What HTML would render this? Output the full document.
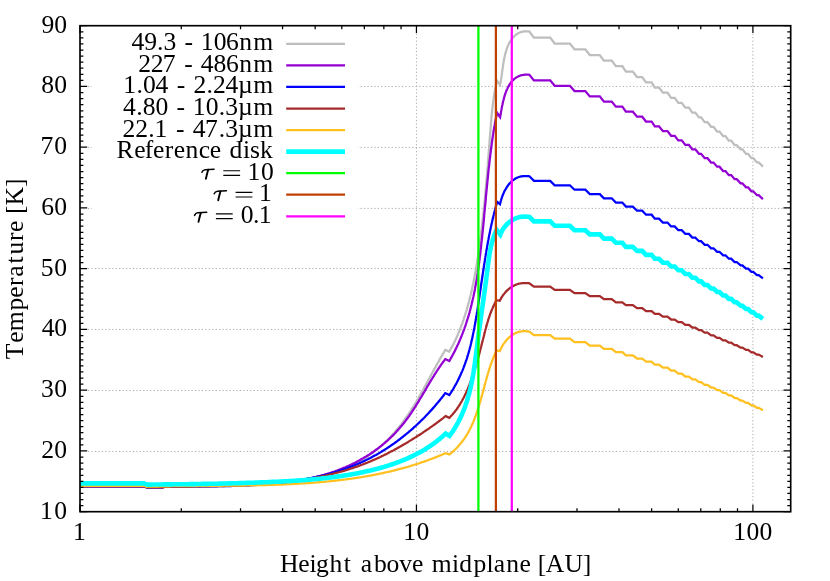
<!DOCTYPE html>
<html><head><meta charset="utf-8"><title>Temperature vs height above midplane</title>
<style>html,body{margin:0;padding:0;background:#fff;}svg{display:block;will-change:transform;}body{font-family:"Liberation Serif",serif;}</style></head>
<body>
<svg width="830" height="581" viewBox="0 0 830 581">
<rect width="830" height="581" fill="#fff"/>
<g stroke="#adadad" stroke-width="1" stroke-dasharray="1.25 2.2" fill="none">
<path d="M88.0,451.45H782.7"/>
<path d="M88.0,390.50H782.7"/>
<path d="M88.0,329.45H782.7"/>
<path d="M88.0,268.55H782.7"/>
<path d="M88.0,208.40H782.7"/>
<path d="M88.0,147.40H782.7"/>
<path d="M88.0,86.45H782.7"/>
<path d="M416.45,33.7V503.7"/>
<path d="M752.90,33.7V503.7"/>
</g>
<rect x="92" y="31" width="266" height="197" fill="#fff"/>
<g fill="none" stroke-linejoin="miter" stroke-miterlimit="4" stroke-linecap="butt">
<path d="M80.0,486.4 L143.9,486.4 L146.8,487.3 L162.3,487.3 L164.5,486.8 L165.5,486.7 L166.5,486.7 L167.5,486.7 L168.5,486.6 L169.5,486.6 L170.5,486.5 L171.4,486.5 L172.4,486.4 L173.4,486.4 L174.4,486.4 L175.4,486.3 L176.4,486.3 L177.4,486.3 L178.4,486.2 L179.4,486.2 L180.4,486.2 L181.4,486.2 L182.4,486.1 L183.4,486.1 L184.4,486.1 L185.4,486.1 L186.4,486.0 L187.4,486.0 L188.4,486.0 L189.4,486.0 L190.4,486.0 L191.4,485.9 L192.4,485.9 L193.3,485.9 L194.3,485.9 L195.3,485.9 L196.3,485.9 L197.3,485.9 L198.3,485.8 L199.3,485.8 L200.3,485.8 L201.3,485.8 L202.3,485.8 L203.3,485.8 L204.3,485.8 L205.3,485.8 L206.3,485.8 L207.3,485.8 L208.3,485.7 L209.3,485.7 L210.3,485.7 L211.3,485.7 L212.3,485.7 L213.3,485.7 L214.3,485.7 L215.3,485.7 L216.3,485.7 L217.3,485.7 L218.3,485.7 L219.3,485.7 L220.3,485.6 L221.3,485.6 L222.3,485.6 L223.3,485.6 L224.3,485.6 L225.3,485.6 L226.3,485.6 L227.4,485.6 L228.4,485.5 L229.4,485.5 L230.4,485.5 L231.4,485.5 L232.4,485.5 L233.4,485.5 L234.4,485.4 L235.4,485.4 L236.4,485.4 L237.4,485.4 L238.4,485.4 L239.4,485.3 L240.4,485.3 L241.4,485.3 L242.4,485.3 L243.4,485.2 L244.4,485.2 L245.4,485.2 L246.4,485.1 L247.4,485.1 L248.4,485.1 L249.4,485.0 L250.4,485.0 L251.4,484.9 L252.4,484.9 L253.4,484.9 L254.4,484.8 L255.4,484.8 L256.4,484.7 L257.4,484.7 L258.4,484.6 L259.4,484.6 L260.4,484.5 L261.4,484.5 L262.4,484.4 L263.4,484.3 L264.4,484.3 L265.4,484.2 L266.4,484.1 L267.4,484.1 L268.4,484.0 L269.4,483.9 L270.4,483.8 L271.4,483.8 L272.5,483.7 L273.5,483.6 L274.5,483.5 L275.5,483.4 L276.5,483.3 L277.5,483.2 L278.5,483.1 L279.5,483.0 L280.5,482.9 L281.5,482.8 L282.5,482.7 L283.5,482.6 L284.5,482.5 L285.5,482.4 L286.5,482.3 L287.5,482.1 L288.5,482.0 L289.5,481.9 L290.5,481.7 L291.5,481.6 L292.5,481.5 L293.5,481.3 L294.5,481.2 L295.5,481.0 L296.5,480.9 L297.5,480.7 L298.5,480.6 L299.5,480.4 L300.5,480.2 L301.4,480.1 L302.4,479.9 L303.4,479.7 L304.4,479.5 L305.4,479.4 L306.4,479.2 L307.4,479.0 L308.4,478.8 L309.4,478.6 L310.4,478.4 L311.4,478.2 L312.4,478.0 L313.4,477.8 L314.4,477.5 L315.4,477.3 L316.4,477.1 L317.3,476.9 L318.3,476.6 L319.3,476.4 L320.3,476.1 L321.3,475.9 L322.3,475.6 L323.2,475.4 L324.2,475.1 L325.2,474.8 L326.2,474.6 L327.1,474.3 L328.1,474.0 L329.1,473.7 L330.0,473.4 L331.0,473.1 L331.9,472.8 L332.9,472.5 L333.9,472.2 L334.8,471.9 L335.8,471.6 L336.7,471.2 L337.7,470.9 L338.6,470.6 L339.5,470.2 L340.5,469.9 L341.4,469.5 L342.4,469.2 L343.3,468.8 L344.2,468.4 L345.1,468.1 L346.1,467.7 L347.0,467.3 L347.9,466.9 L348.8,466.5 L349.7,466.1 L350.6,465.7 L351.5,465.3 L352.4,464.8 L353.3,464.4 L354.2,464.0 L355.1,463.5 L356.0,463.1 L356.8,462.6 L357.7,462.2 L358.6,461.7 L359.4,461.2 L360.3,460.8 L361.2,460.3 L362.0,459.8 L362.9,459.3 L363.7,458.8 L364.5,458.3 L365.4,457.8 L366.2,457.2 L367.0,456.7 L367.9,456.2 L368.7,455.6 L369.5,455.1 L370.3,454.5 L371.1,453.9 L371.9,453.4 L372.7,452.8 L373.5,452.2 L374.3,451.6 L375.0,451.0 L375.8,450.4 L376.6,449.8 L377.3,449.2 L378.1,448.6 L378.9,447.9 L379.6,447.3 L380.4,446.6 L381.1,446.0 L381.8,445.3 L382.6,444.7 L383.3,444.0 L384.0,443.3 L384.7,442.7 L385.4,442.0 L386.1,441.3 L386.9,440.6 L387.6,439.9 L388.2,439.2 L388.9,438.5 L389.6,437.8 L390.3,437.1 L391.0,436.3 L391.7,435.6 L392.3,434.9 L393.0,434.1 L393.7,433.4 L394.3,432.7 L395.0,431.9 L395.6,431.1 L396.3,430.4 L396.9,429.6 L397.5,428.9 L398.2,428.1 L398.8,427.3 L399.4,426.5 L400.0,425.7 L400.7,424.9 L401.3,424.2 L401.9,423.4 L402.5,422.6 L403.1,421.8 L403.7,421.0 L404.3,420.1 L404.9,419.3 L405.4,418.5 L406.0,417.7 L406.6,416.9 L407.2,416.0 L407.7,415.2 L408.3,414.4 L408.9,413.5 L409.4,412.7 L410.0,411.9 L410.5,411.0 L411.1,410.2 L411.6,409.3 L412.2,408.5 L412.7,407.6 L413.2,406.8 L413.8,405.9 L414.3,405.1 L414.8,404.2 L415.4,403.3 L415.9,402.5 L416.4,401.6 L416.9,400.7 L417.4,399.9 L417.9,399.0 L418.4,398.1 L418.9,397.3 L419.4,396.4 L419.9,395.5 L420.4,394.6 L420.9,393.8 L421.4,392.9 L421.9,392.0 L422.4,391.1 L422.9,390.2 L423.4,389.4 L423.9,388.5 L424.3,387.6 L424.8,386.7 L425.3,385.8 L425.8,384.9 L426.3,384.0 L426.8,383.2 L427.2,382.3 L427.7,381.4 L428.2,380.5 L428.7,379.6 L429.1,378.7 L429.6,377.8 L430.1,376.9 L430.6,376.1 L431.0,375.2 L431.5,374.3 L432.0,373.4 L432.5,372.5 L433.0,371.6 L433.4,370.8 L433.9,369.9 L434.4,369.0 L434.9,368.1 L435.4,367.2 L435.8,366.4 L436.3,365.5 L436.8,364.6 L437.3,363.7 L437.8,362.9 L438.3,362.0 L438.8,361.1 L439.2,360.3 L439.7,359.4 L440.2,358.5 L440.7,357.7 L441.2,356.8 L441.7,355.9 L442.2,355.1 L442.7,354.2 L443.2,353.4 L443.8,352.5 L444.3,351.7 L444.8,350.8 L445.3,350.0 L449.3,351.6 L449.8,350.7 L450.3,349.8 L450.8,348.9 L451.3,348.0 L451.8,347.1 L452.3,346.2 L452.8,345.3 L453.2,344.4 L453.7,343.5 L454.2,342.6 L454.6,341.7 L455.0,340.7 L455.5,339.8 L455.9,338.9 L456.3,338.0 L456.7,337.1 L457.1,336.2 L457.6,335.3 L457.9,334.3 L458.3,333.4 L458.7,332.5 L459.1,331.6 L459.5,330.6 L459.9,329.7 L460.2,328.8 L460.6,327.9 L460.9,326.9 L461.3,326.0 L461.6,325.1 L462.0,324.1 L462.3,323.2 L462.6,322.3 L463.0,321.3 L463.3,320.4 L463.6,319.5 L463.9,318.5 L464.2,317.6 L464.5,316.7 L464.8,315.7 L465.1,314.8 L465.4,313.8 L465.7,312.9 L466.0,312.0 L466.3,311.0 L466.6,310.1 L466.9,309.1 L467.1,308.2 L467.4,307.2 L467.7,306.3 L467.9,305.3 L468.2,304.4 L468.5,303.4 L468.7,302.5 L469.0,301.5 L469.2,300.6 L469.5,299.6 L469.7,298.6 L470.0,297.7 L470.2,296.7 L470.4,295.8 L470.7,294.8 L470.9,293.8 L471.1,292.9 L471.4,291.9 L471.6,291.0 L471.8,290.0 L472.0,289.0 L472.2,288.1 L472.4,287.1 L472.6,286.1 L472.8,285.2 L473.1,284.2 L473.3,283.2 L473.5,282.3 L473.7,281.3 L473.8,280.3 L474.0,279.3 L474.2,278.4 L474.4,277.4 L474.6,276.4 L474.8,275.5 L475.0,274.5 L475.1,273.5 L475.3,272.5 L475.5,271.5 L475.7,270.6 L475.8,269.6 L476.0,268.6 L476.2,267.6 L476.3,266.7 L476.5,265.7 L476.7,264.7 L476.8,263.7 L477.0,262.7 L477.1,261.7 L477.3,260.8 L477.5,259.8 L477.6,258.8 L477.8,257.8 L477.9,256.8 L478.1,255.8 L478.2,254.8 L478.3,253.9 L478.5,252.9 L478.6,251.9 L478.8,250.9 L478.9,249.9 L479.1,248.9 L479.2,247.9 L479.3,246.9 L479.5,245.9 L479.6,244.9 L479.7,244.0 L479.9,243.0 L480.0,242.0 L480.1,241.0 L480.3,240.0 L480.4,239.0 L480.5,238.0 L480.6,237.0 L480.8,236.0 L480.9,235.0 L481.0,234.0 L481.1,233.0 L481.2,232.0 L481.4,231.0 L481.5,230.0 L481.6,229.0 L481.7,228.0 L481.8,227.0 L482.0,226.0 L482.1,225.0 L482.2,224.0 L482.3,223.0 L482.4,222.0 L482.5,221.0 L482.6,220.0 L482.7,219.0 L482.9,218.0 L483.0,217.0 L483.1,216.0 L483.2,215.0 L483.3,214.0 L483.4,213.0 L483.5,212.0 L483.6,211.0 L483.7,210.0 L483.8,209.0 L483.9,208.0 L484.0,207.0 L484.1,206.0 L484.2,205.0 L484.3,204.0 L484.4,203.0 L484.5,202.0 L484.6,201.0 L484.7,200.0 L484.8,199.0 L484.9,198.0 L485.0,197.0 L485.1,196.0 L485.2,194.9 L485.3,193.9 L485.3,192.9 L485.4,191.9 L485.5,190.9 L485.6,189.9 L485.7,188.9 L485.8,187.9 L485.9,186.9 L486.0,185.9 L486.1,184.9 L486.2,183.9 L486.2,182.9 L486.3,181.9 L486.4,180.9 L486.5,179.9 L486.6,178.9 L486.7,177.9 L486.8,176.9 L486.8,175.8 L486.9,174.8 L487.0,173.8 L487.1,172.8 L487.2,171.8 L487.3,170.8 L487.3,169.8 L487.4,168.8 L487.5,167.8 L487.6,166.8 L487.7,165.8 L487.7,164.8 L487.8,163.8 L487.9,162.8 L488.0,161.8 L488.1,160.8 L488.1,159.8 L488.2,158.8 L488.3,157.8 L488.4,156.8 L488.5,155.8 L488.5,154.8 L488.6,153.8 L488.7,152.8 L488.8,151.8 L488.8,150.8 L488.9,149.8 L489.0,148.8 L489.1,147.8 L489.2,146.8 L489.2,145.8 L489.3,144.8 L489.4,143.8 L489.5,142.8 L489.5,141.8 L489.6,140.8 L489.7,139.8 L489.8,138.8 L489.8,137.8 L489.9,136.8 L490.0,135.8 L490.1,134.8 L490.2,133.8 L490.2,132.8 L490.3,131.8 L490.4,130.8 L490.5,129.8 L490.5,128.8 L490.6,127.8 L490.7,126.8 L490.8,125.8 L490.9,124.8 L490.9,123.8 L491.0,122.8 L491.1,121.8 L491.2,120.9 L491.3,119.9 L491.3,118.9 L491.4,117.9 L491.5,116.9 L491.6,115.9 L491.7,114.9 L491.8,113.9 L491.9,112.9 L492.0,112.0 L492.1,111.0 L492.2,110.0 L492.3,109.0 L492.4,108.0 L492.5,107.0 L492.6,106.0 L492.8,105.1 L492.9,104.1 L493.0,103.1 L493.1,102.1 L493.3,101.1 L493.4,100.2 L493.5,99.2 L493.7,98.2 L493.8,97.2 L494.0,96.2 L494.1,95.3 L494.3,94.3 L494.5,93.3 L494.6,92.3 L494.8,91.4 L495.0,90.4 L495.2,89.4 L495.4,88.5 L495.6,87.5 L495.8,86.5 L496.0,85.5 L496.2,84.6 L496.4,83.6 L496.6,82.6 L496.9,81.7 L497.1,80.7 L500.0,84.8 L500.2,83.9 L500.4,83.1 L500.6,82.2 L500.7,81.2 L500.9,80.3 L501.1,79.4 L501.2,78.4 L501.4,77.4 L501.5,76.4 L501.7,75.4 L501.8,74.4 L501.9,73.4 L502.1,72.4 L502.2,71.3 L502.4,70.3 L502.5,69.2 L502.7,68.2 L502.8,67.1 L503.0,66.1 L503.1,65.0 L503.3,63.9 L503.5,62.9 L503.6,61.8 L503.8,60.7 L504.0,59.7 L504.2,58.6 L504.4,57.6 L504.7,56.5 L504.9,55.5 L505.1,54.4 L505.4,53.4 L505.7,52.4 L506.0,51.4 L506.3,50.4 L506.6,49.4 L506.9,48.4 L507.3,47.5 L507.6,46.5 L508.0,45.6 L508.4,44.7 L508.9,43.8 L509.3,42.9 L509.8,42.1 L510.3,41.3 L510.8,40.4 L511.3,39.7 L511.9,38.9 L512.5,38.1 L513.1,37.4 L513.7,36.7 L514.4,36.1 L515.1,35.5 L515.8,34.9 L516.6,34.3 L517.4,33.8 L518.2,33.3 L519.0,32.8 L519.9,32.5 L520.8,32.1 L521.8,31.8 L522.7,31.6 L523.8,31.4 L524.8,31.3 L525.9,31.3 L527.0,31.3 L528.2,31.4 L529.4,31.6 L529.4,31.6 L533.9,37.6 L550.2,37.6 L554.7,43.5 L569.9,43.5 L574.5,49.3 L585.3,49.3 L589.8,55.0 L599.8,55.0 L603.9,60.6 L611.7,60.6 L615.9,66.2 L622.3,66.2 L625.9,71.6 L632.8,71.6 L637.0,77.0 L642.2,77.0 L646.0,82.3 L651.6,82.3 L654.8,87.6 L659.0,87.6 L662.9,92.7 L667.5,92.7 L671.1,97.8 L674.7,97.8 L678.3,102.8 L681.7,102.8 L685.3,107.7 L688.9,107.7 L692.3,112.6 L695.3,112.6 L699.0,117.4 L701.1,117.4 L704.7,122.2 L707.5,122.2 L711.1,126.8 L713.5,126.8 L717.1,131.5 L719.5,131.5 L723.1,136.0 L725.5,136.0 L728.8,140.6 L731.2,140.6 L734.6,145.0 L736.7,145.0 L740.6,149.4 L742.4,149.4 L746.0,153.8 L748.1,153.8 L751.4,158.1 L753.3,158.1 L756.9,162.4 L758.7,162.4 L762.9,166.6" stroke="#bebebe" stroke-width="2.25"/>
<path d="M80.0,486.4 L143.9,486.4 L146.8,487.3 L162.3,487.3 L164.5,486.8 L165.5,486.7 L166.4,486.7 L167.4,486.6 L168.4,486.6 L169.4,486.5 L170.4,486.5 L171.3,486.5 L172.3,486.4 L173.3,486.4 L174.3,486.3 L175.3,486.3 L176.3,486.3 L177.2,486.2 L178.2,486.2 L179.2,486.2 L180.2,486.1 L181.2,486.1 L182.2,486.1 L183.2,486.1 L184.2,486.0 L185.2,486.0 L186.2,486.0 L187.2,486.0 L188.1,486.0 L189.1,485.9 L190.1,485.9 L191.1,485.9 L192.1,485.9 L193.1,485.9 L194.1,485.9 L195.1,485.8 L196.1,485.8 L197.1,485.8 L198.1,485.8 L199.1,485.8 L200.1,485.8 L201.1,485.8 L202.1,485.8 L203.2,485.8 L204.2,485.7 L205.2,485.7 L206.2,485.7 L207.2,485.7 L208.2,485.7 L209.2,485.7 L210.2,485.7 L211.2,485.7 L212.2,485.7 L213.2,485.7 L214.2,485.7 L215.2,485.7 L216.3,485.6 L217.3,485.6 L218.3,485.6 L219.3,485.6 L220.3,485.6 L221.3,485.6 L222.3,485.6 L223.3,485.6 L224.3,485.6 L225.4,485.6 L226.4,485.5 L227.4,485.5 L228.4,485.5 L229.4,485.5 L230.4,485.5 L231.4,485.5 L232.4,485.5 L233.5,485.4 L234.5,485.4 L235.5,485.4 L236.5,485.4 L237.5,485.4 L238.5,485.3 L239.5,485.3 L240.5,485.3 L241.6,485.3 L242.6,485.2 L243.6,485.2 L244.6,485.2 L245.6,485.2 L246.6,485.1 L247.6,485.1 L248.6,485.1 L249.7,485.0 L250.7,485.0 L251.7,484.9 L252.7,484.9 L253.7,484.9 L254.7,484.8 L255.7,484.8 L256.7,484.7 L257.7,484.7 L258.7,484.6 L259.8,484.6 L260.8,484.5 L261.8,484.4 L262.8,484.4 L263.8,484.3 L264.8,484.3 L265.8,484.2 L266.8,484.1 L267.8,484.0 L268.8,484.0 L269.8,483.9 L270.8,483.8 L271.8,483.7 L272.8,483.7 L273.8,483.6 L274.8,483.5 L275.8,483.4 L276.8,483.3 L277.8,483.2 L278.8,483.1 L279.8,483.0 L280.8,482.9 L281.8,482.8 L282.8,482.7 L283.8,482.6 L284.8,482.4 L285.8,482.3 L286.8,482.2 L287.8,482.1 L288.8,481.9 L289.8,481.8 L290.8,481.7 L291.8,481.5 L292.8,481.4 L293.8,481.2 L294.7,481.1 L295.7,480.9 L296.7,480.8 L297.7,480.6 L298.7,480.5 L299.7,480.3 L300.6,480.1 L301.6,479.9 L302.6,479.8 L303.6,479.6 L304.6,479.4 L305.5,479.2 L306.5,479.0 L307.5,478.8 L308.5,478.6 L309.4,478.4 L310.4,478.2 L311.4,478.0 L312.3,477.8 L313.3,477.5 L314.3,477.3 L315.2,477.1 L316.2,476.9 L317.2,476.6 L318.1,476.4 L319.1,476.1 L320.0,475.9 L321.0,475.6 L322.0,475.3 L322.9,475.1 L323.9,474.8 L324.8,474.5 L325.8,474.2 L326.7,474.0 L327.7,473.7 L328.6,473.4 L329.6,473.1 L330.5,472.8 L331.5,472.5 L332.4,472.1 L333.3,471.8 L334.3,471.5 L335.2,471.2 L336.1,470.8 L337.1,470.5 L338.0,470.1 L338.9,469.8 L339.9,469.4 L340.8,469.1 L341.7,468.7 L342.6,468.3 L343.6,467.9 L344.5,467.5 L345.4,467.2 L346.3,466.8 L347.2,466.4 L348.1,465.9 L349.1,465.5 L350.0,465.1 L350.9,464.7 L351.8,464.3 L352.7,463.8 L353.6,463.4 L354.5,462.9 L355.4,462.5 L356.3,462.0 L357.2,461.5 L358.1,461.1 L359.0,460.6 L359.8,460.1 L360.7,459.6 L361.6,459.1 L362.5,458.6 L363.3,458.1 L364.2,457.6 L365.1,457.1 L365.9,456.6 L366.8,456.0 L367.7,455.5 L368.5,454.9 L369.4,454.4 L370.2,453.9 L371.1,453.3 L371.9,452.7 L372.7,452.2 L373.6,451.6 L374.4,451.0 L375.2,450.4 L376.0,449.8 L376.8,449.3 L377.6,448.7 L378.4,448.0 L379.2,447.4 L380.0,446.8 L380.8,446.2 L381.6,445.6 L382.4,444.9 L383.1,444.3 L383.9,443.7 L384.7,443.0 L385.4,442.4 L386.2,441.7 L386.9,441.1 L387.7,440.4 L388.4,439.7 L389.1,439.0 L389.8,438.4 L390.6,437.7 L391.3,437.0 L392.0,436.3 L392.7,435.6 L393.4,434.9 L394.1,434.2 L394.8,433.5 L395.5,432.8 L396.1,432.0 L396.8,431.3 L397.5,430.6 L398.1,429.8 L398.8,429.1 L399.5,428.3 L400.1,427.6 L400.7,426.8 L401.4,426.1 L402.0,425.3 L402.6,424.5 L403.3,423.8 L403.9,423.0 L404.5,422.2 L405.1,421.4 L405.7,420.6 L406.3,419.8 L406.9,419.0 L407.5,418.2 L408.1,417.4 L408.7,416.6 L409.3,415.8 L409.8,414.9 L410.4,414.1 L411.0,413.3 L411.5,412.5 L412.1,411.6 L412.6,410.8 L413.2,409.9 L413.7,409.1 L414.3,408.3 L414.8,407.4 L415.4,406.6 L415.9,405.7 L416.4,404.8 L417.0,404.0 L417.5,403.1 L418.0,402.3 L418.6,401.4 L419.1,400.5 L419.6,399.7 L420.1,398.8 L420.6,397.9 L421.2,397.1 L421.7,396.2 L422.2,395.3 L422.7,394.5 L423.2,393.6 L423.7,392.7 L424.3,391.8 L424.8,391.0 L425.3,390.1 L425.8,389.2 L426.3,388.4 L426.8,387.5 L427.3,386.6 L427.8,385.7 L428.4,384.9 L428.9,384.0 L429.4,383.1 L429.9,382.3 L430.4,381.4 L430.9,380.6 L431.5,379.7 L432.0,378.8 L432.5,378.0 L433.0,377.1 L433.6,376.3 L434.1,375.4 L434.6,374.6 L435.2,373.7 L435.7,372.9 L436.2,372.0 L436.8,371.2 L437.3,370.4 L437.9,369.5 L438.4,368.7 L439.0,367.9 L439.5,367.1 L440.1,366.3 L440.6,365.4 L441.2,364.6 L441.8,363.8 L442.4,363.0 L442.9,362.2 L443.5,361.4 L444.1,360.7 L444.7,359.9 L445.3,359.1 L449.3,361.1 L449.8,360.2 L450.3,359.3 L450.8,358.4 L451.3,357.5 L451.8,356.6 L452.3,355.7 L452.8,354.8 L453.3,353.9 L453.7,353.0 L454.2,352.1 L454.7,351.2 L455.1,350.3 L455.6,349.4 L456.0,348.5 L456.5,347.6 L456.9,346.7 L457.3,345.8 L457.7,344.9 L458.2,344.0 L458.6,343.0 L459.0,342.1 L459.4,341.2 L459.8,340.3 L460.2,339.4 L460.6,338.4 L460.9,337.5 L461.3,336.6 L461.7,335.7 L462.1,334.7 L462.4,333.8 L462.8,332.9 L463.1,331.9 L463.5,331.0 L463.8,330.1 L464.2,329.1 L464.5,328.2 L464.8,327.3 L465.2,326.3 L465.5,325.4 L465.8,324.5 L466.1,323.5 L466.4,322.6 L466.7,321.6 L467.0,320.7 L467.3,319.7 L467.6,318.8 L467.9,317.8 L468.2,316.9 L468.5,315.9 L468.8,315.0 L469.0,314.0 L469.3,313.1 L469.6,312.1 L469.8,311.2 L470.1,310.2 L470.4,309.3 L470.6,308.3 L470.9,307.3 L471.1,306.4 L471.3,305.4 L471.6,304.5 L471.8,303.5 L472.0,302.5 L472.3,301.6 L472.5,300.6 L472.7,299.6 L472.9,298.7 L473.1,297.7 L473.4,296.7 L473.6,295.8 L473.8,294.8 L474.0,293.8 L474.2,292.8 L474.4,291.9 L474.6,290.9 L474.8,289.9 L475.0,288.9 L475.1,288.0 L475.3,287.0 L475.5,286.0 L475.7,285.0 L475.9,284.0 L476.0,283.1 L476.2,282.1 L476.4,281.1 L476.5,280.1 L476.7,279.1 L476.9,278.2 L477.0,277.2 L477.2,276.2 L477.3,275.2 L477.5,274.2 L477.6,273.2 L477.8,272.2 L477.9,271.2 L478.1,270.3 L478.2,269.3 L478.4,268.3 L478.5,267.3 L478.6,266.3 L478.8,265.3 L478.9,264.3 L479.0,263.3 L479.2,262.3 L479.3,261.3 L479.4,260.3 L479.6,259.3 L479.7,258.3 L479.8,257.3 L479.9,256.4 L480.1,255.4 L480.2,254.4 L480.3,253.4 L480.4,252.4 L480.5,251.4 L480.6,250.4 L480.8,249.4 L480.9,248.4 L481.0,247.4 L481.1,246.4 L481.2,245.4 L481.3,244.4 L481.4,243.4 L481.5,242.4 L481.6,241.4 L481.8,240.4 L481.9,239.3 L482.0,238.3 L482.1,237.3 L482.2,236.3 L482.3,235.3 L482.4,234.3 L482.5,233.3 L482.6,232.3 L482.7,231.3 L482.8,230.3 L482.9,229.3 L483.0,228.3 L483.1,227.3 L483.2,226.3 L483.3,225.3 L483.4,224.3 L483.5,223.3 L483.6,222.3 L483.7,221.3 L483.8,220.2 L483.9,219.2 L484.0,218.2 L484.1,217.2 L484.1,216.2 L484.2,215.2 L484.3,214.2 L484.4,213.2 L484.5,212.2 L484.6,211.2 L484.7,210.2 L484.8,209.2 L484.9,208.2 L485.0,207.1 L485.1,206.1 L485.2,205.1 L485.3,204.1 L485.4,203.1 L485.5,202.1 L485.6,201.1 L485.7,200.1 L485.8,199.1 L485.8,198.1 L485.9,197.1 L486.0,196.1 L486.1,195.1 L486.2,194.0 L486.3,193.0 L486.4,192.0 L486.5,191.0 L486.6,190.0 L486.7,189.0 L486.8,188.0 L486.9,187.0 L487.0,186.0 L487.1,185.0 L487.2,184.0 L487.3,183.0 L487.4,182.0 L487.5,181.0 L487.6,180.0 L487.7,179.0 L487.8,178.0 L487.9,177.0 L488.0,176.0 L488.1,174.9 L488.2,173.9 L488.3,172.9 L488.4,171.9 L488.5,170.9 L488.6,169.9 L488.7,168.9 L488.8,167.9 L488.9,166.9 L489.1,165.9 L489.2,164.9 L489.3,163.9 L489.4,162.9 L489.5,161.9 L489.6,160.9 L489.7,159.9 L489.8,159.0 L490.0,158.0 L490.1,157.0 L490.2,156.0 L490.3,155.0 L490.4,154.0 L490.6,153.0 L490.7,152.0 L490.8,151.0 L490.9,150.0 L491.1,149.0 L491.2,148.0 L491.3,147.0 L491.4,146.0 L491.6,145.1 L491.7,144.1 L491.8,143.1 L492.0,142.1 L492.1,141.1 L492.2,140.1 L492.4,139.1 L492.5,138.1 L492.7,137.2 L492.8,136.2 L493.0,135.2 L493.1,134.2 L493.3,133.2 L493.4,132.2 L493.6,131.3 L493.7,130.3 L493.9,129.3 L494.1,128.3 L494.2,127.4 L494.4,126.4 L494.6,125.4 L494.8,124.4 L494.9,123.5 L495.1,122.5 L495.3,121.5 L495.5,120.5 L495.7,119.6 L495.9,118.6 L496.1,117.6 L496.3,116.7 L496.5,115.7 L496.7,114.7 L496.9,113.8 L497.1,112.8 L500.1,117.2 L500.3,116.3 L500.4,115.4 L500.6,114.5 L500.8,113.6 L500.9,112.6 L501.1,111.6 L501.3,110.6 L501.5,109.6 L501.6,108.6 L501.8,107.6 L502.0,106.6 L502.2,105.6 L502.5,104.5 L502.7,103.5 L502.9,102.4 L503.1,101.4 L503.4,100.4 L503.7,99.3 L503.9,98.3 L504.2,97.2 L504.5,96.2 L504.8,95.2 L505.2,94.2 L505.5,93.2 L505.9,92.2 L506.3,91.2 L506.6,90.2 L507.1,89.3 L507.5,88.4 L507.9,87.4 L508.4,86.5 L508.9,85.7 L509.4,84.8 L509.9,84.0 L510.5,83.2 L511.0,82.4 L511.6,81.7 L512.3,81.0 L512.9,80.3 L513.6,79.6 L514.3,79.0 L515.0,78.4 L515.7,77.9 L516.5,77.4 L517.3,76.9 L518.1,76.5 L519.0,76.1 L519.9,75.7 L520.8,75.4 L521.8,75.2 L522.8,75.0 L523.8,74.8 L524.8,74.7 L525.9,74.7 L527.1,74.7 L528.2,74.7 L529.4,74.9 L529.4,74.9 L533.9,80.4 L550.2,80.4 L554.7,85.8 L569.9,85.8 L574.5,91.1 L585.3,91.1 L589.8,96.4 L599.8,96.4 L603.9,101.6 L611.7,101.6 L615.9,106.7 L622.3,106.7 L625.9,111.7 L632.8,111.7 L637.0,116.7 L642.2,116.7 L646.0,121.5 L651.6,121.5 L654.8,126.4 L659.0,126.4 L662.9,131.1 L667.5,131.1 L671.1,135.8 L674.7,135.8 L678.3,140.4 L681.7,140.4 L685.3,144.9 L688.9,144.9 L692.3,149.4 L695.3,149.4 L699.0,153.8 L701.1,153.8 L704.7,158.2 L707.5,158.2 L711.1,162.5 L713.5,162.5 L717.1,166.7 L719.5,166.7 L723.1,171.0 L725.5,171.0 L728.8,175.1 L731.2,175.1 L734.6,179.2 L736.7,179.2 L740.6,183.3 L742.4,183.3 L746.0,187.3 L748.1,187.3 L751.4,191.3 L753.3,191.3 L756.9,195.2 L758.7,195.2 L762.9,199.1" stroke="#9400d3" stroke-width="2.25"/>
<path d="M80.0,486.4 L143.9,486.4 L146.8,487.3 L162.3,487.3 L164.5,486.8 L165.5,486.8 L166.4,486.8 L167.4,486.8 L168.4,486.7 L169.3,486.7 L170.3,486.7 L171.3,486.7 L172.3,486.7 L173.2,486.7 L174.2,486.7 L175.2,486.7 L176.2,486.6 L177.2,486.6 L178.1,486.6 L179.1,486.6 L180.1,486.6 L181.1,486.6 L182.1,486.6 L183.1,486.6 L184.1,486.6 L185.0,486.6 L186.0,486.6 L187.0,486.5 L188.0,486.5 L189.0,486.5 L190.0,486.5 L191.0,486.5 L192.0,486.5 L193.0,486.5 L194.0,486.5 L195.0,486.5 L196.0,486.5 L197.0,486.5 L198.0,486.5 L199.0,486.5 L200.0,486.5 L201.0,486.4 L202.0,486.4 L203.0,486.4 L204.0,486.4 L205.0,486.4 L206.0,486.4 L207.0,486.4 L208.0,486.4 L209.0,486.4 L210.0,486.4 L211.0,486.3 L212.1,486.3 L213.1,486.3 L214.1,486.3 L215.1,486.3 L216.1,486.3 L217.1,486.3 L218.1,486.2 L219.1,486.2 L220.1,486.2 L221.1,486.2 L222.2,486.2 L223.2,486.2 L224.2,486.1 L225.2,486.1 L226.2,486.1 L227.2,486.1 L228.2,486.0 L229.3,486.0 L230.3,486.0 L231.3,486.0 L232.3,485.9 L233.3,485.9 L234.3,485.9 L235.4,485.8 L236.4,485.8 L237.4,485.8 L238.4,485.7 L239.4,485.7 L240.4,485.7 L241.5,485.6 L242.5,485.6 L243.5,485.5 L244.5,485.5 L245.5,485.4 L246.5,485.4 L247.6,485.3 L248.6,485.3 L249.6,485.2 L250.6,485.2 L251.6,485.1 L252.6,485.1 L253.6,485.0 L254.7,485.0 L255.7,484.9 L256.7,484.8 L257.7,484.8 L258.7,484.7 L259.7,484.6 L260.8,484.6 L261.8,484.5 L262.8,484.4 L263.8,484.4 L264.8,484.3 L265.8,484.2 L266.8,484.1 L267.9,484.0 L268.9,483.9 L269.9,483.9 L270.9,483.8 L271.9,483.7 L272.9,483.6 L273.9,483.5 L274.9,483.4 L275.9,483.3 L276.9,483.2 L278.0,483.1 L279.0,483.0 L280.0,482.9 L281.0,482.7 L282.0,482.6 L283.0,482.5 L284.0,482.4 L285.0,482.3 L286.0,482.2 L287.0,482.0 L288.0,481.9 L289.0,481.8 L290.0,481.6 L291.0,481.5 L292.0,481.3 L293.0,481.2 L294.0,481.1 L295.0,480.9 L296.0,480.8 L297.0,480.6 L298.0,480.4 L299.0,480.3 L300.0,480.1 L301.0,480.0 L301.9,479.8 L302.9,479.6 L303.9,479.4 L304.9,479.3 L305.9,479.1 L306.9,478.9 L307.9,478.7 L308.9,478.5 L309.8,478.3 L310.8,478.1 L311.8,477.9 L312.8,477.7 L313.8,477.5 L314.7,477.3 L315.7,477.1 L316.7,476.9 L317.7,476.7 L318.6,476.5 L319.6,476.2 L320.6,476.0 L321.6,475.8 L322.5,475.5 L323.5,475.3 L324.5,475.0 L325.4,474.8 L326.4,474.5 L327.3,474.3 L328.3,474.0 L329.3,473.8 L330.2,473.5 L331.2,473.2 L332.1,473.0 L333.1,472.7 L334.0,472.4 L335.0,472.1 L335.9,471.8 L336.9,471.5 L337.8,471.2 L338.8,470.9 L339.7,470.6 L340.7,470.3 L341.6,470.0 L342.5,469.7 L343.5,469.4 L344.4,469.1 L345.3,468.7 L346.3,468.4 L347.2,468.1 L348.1,467.7 L349.1,467.4 L350.0,467.0 L350.9,466.7 L351.8,466.3 L352.8,465.9 L353.7,465.6 L354.6,465.2 L355.5,464.8 L356.4,464.4 L357.3,464.1 L358.2,463.7 L359.2,463.3 L360.1,462.9 L361.0,462.5 L361.9,462.1 L362.8,461.6 L363.7,461.2 L364.6,460.8 L365.5,460.4 L366.3,459.9 L367.2,459.5 L368.1,459.1 L369.0,458.6 L369.9,458.2 L370.8,457.7 L371.7,457.2 L372.5,456.8 L373.4,456.3 L374.3,455.8 L375.2,455.3 L376.0,454.9 L376.9,454.4 L377.8,453.9 L378.6,453.4 L379.5,452.9 L380.3,452.4 L381.2,451.9 L382.1,451.3 L382.9,450.8 L383.8,450.3 L384.6,449.8 L385.4,449.2 L386.3,448.7 L387.1,448.1 L388.0,447.6 L388.8,447.0 L389.6,446.5 L390.5,445.9 L391.3,445.3 L392.1,444.8 L392.9,444.2 L393.8,443.6 L394.6,443.0 L395.4,442.5 L396.2,441.9 L397.0,441.3 L397.8,440.7 L398.6,440.1 L399.4,439.5 L400.2,438.9 L401.0,438.2 L401.8,437.6 L402.6,437.0 L403.4,436.4 L404.2,435.7 L405.0,435.1 L405.8,434.5 L406.5,433.8 L407.3,433.2 L408.1,432.5 L408.9,431.9 L409.6,431.2 L410.4,430.6 L411.2,429.9 L411.9,429.3 L412.7,428.6 L413.4,427.9 L414.2,427.2 L414.9,426.6 L415.7,425.9 L416.4,425.2 L417.2,424.5 L417.9,423.8 L418.6,423.1 L419.4,422.4 L420.1,421.7 L420.8,421.0 L421.5,420.3 L422.2,419.6 L423.0,418.9 L423.7,418.2 L424.4,417.5 L425.1,416.7 L425.8,416.0 L426.5,415.3 L427.2,414.6 L427.9,413.8 L428.6,413.1 L429.2,412.4 L429.9,411.6 L430.6,410.9 L431.3,410.1 L432.0,409.4 L432.6,408.6 L433.3,407.9 L434.0,407.1 L434.6,406.4 L435.3,405.6 L435.9,404.8 L436.6,404.1 L437.2,403.3 L437.9,402.5 L438.5,401.8 L439.1,401.0 L439.8,400.2 L440.4,399.4 L441.0,398.6 L441.6,397.9 L442.3,397.1 L442.9,396.3 L443.5,395.5 L444.1,394.7 L444.7,393.9 L445.3,393.1 L449.3,395.0 L449.9,394.1 L450.5,393.3 L451.0,392.4 L451.6,391.6 L452.1,390.7 L452.7,389.8 L453.2,389.0 L453.7,388.1 L454.2,387.2 L454.7,386.3 L455.2,385.4 L455.7,384.6 L456.2,383.7 L456.7,382.8 L457.1,381.9 L457.6,381.0 L458.1,380.1 L458.5,379.2 L458.9,378.3 L459.4,377.4 L459.8,376.5 L460.2,375.6 L460.6,374.7 L461.0,373.8 L461.4,372.9 L461.8,372.0 L462.2,371.1 L462.6,370.1 L463.0,369.2 L463.3,368.3 L463.7,367.4 L464.0,366.5 L464.4,365.5 L464.7,364.6 L465.1,363.7 L465.4,362.7 L465.7,361.8 L466.0,360.9 L466.4,359.9 L466.7,359.0 L467.0,358.1 L467.3,357.1 L467.6,356.2 L467.8,355.2 L468.1,354.3 L468.4,353.3 L468.7,352.4 L469.0,351.4 L469.2,350.5 L469.5,349.5 L469.7,348.6 L470.0,347.6 L470.2,346.7 L470.5,345.7 L470.7,344.7 L471.0,343.8 L471.2,342.8 L471.4,341.8 L471.6,340.9 L471.9,339.9 L472.1,338.9 L472.3,338.0 L472.5,337.0 L472.7,336.0 L472.9,335.0 L473.1,334.1 L473.3,333.1 L473.5,332.1 L473.7,331.1 L473.9,330.2 L474.1,329.2 L474.3,328.2 L474.5,327.2 L474.6,326.2 L474.8,325.2 L475.0,324.3 L475.2,323.3 L475.4,322.3 L475.5,321.3 L475.7,320.3 L475.9,319.3 L476.0,318.3 L476.2,317.3 L476.4,316.3 L476.5,315.4 L476.7,314.4 L476.8,313.4 L477.0,312.4 L477.2,311.4 L477.3,310.4 L477.5,309.4 L477.6,308.4 L477.8,307.4 L477.9,306.4 L478.1,305.4 L478.2,304.4 L478.4,303.4 L478.6,302.4 L478.7,301.4 L478.9,300.4 L479.0,299.4 L479.2,298.4 L479.3,297.4 L479.5,296.4 L479.6,295.4 L479.8,294.4 L479.9,293.4 L480.0,292.4 L480.2,291.4 L480.3,290.4 L480.5,289.4 L480.6,288.3 L480.8,287.3 L480.9,286.3 L481.1,285.3 L481.2,284.3 L481.4,283.3 L481.5,282.3 L481.7,281.3 L481.8,280.3 L482.0,279.3 L482.1,278.3 L482.3,277.3 L482.4,276.3 L482.6,275.3 L482.7,274.3 L482.9,273.3 L483.0,272.3 L483.2,271.3 L483.3,270.3 L483.5,269.3 L483.6,268.3 L483.8,267.2 L483.9,266.2 L484.1,265.2 L484.2,264.2 L484.4,263.2 L484.6,262.2 L484.7,261.2 L484.9,260.2 L485.0,259.2 L485.2,258.2 L485.4,257.2 L485.5,256.2 L485.7,255.2 L485.8,254.2 L486.0,253.2 L486.2,252.2 L486.3,251.3 L486.5,250.3 L486.7,249.3 L486.9,248.3 L487.0,247.3 L487.2,246.3 L487.4,245.3 L487.6,244.3 L487.7,243.3 L487.9,242.3 L488.1,241.3 L488.3,240.3 L488.5,239.4 L488.6,238.4 L488.8,237.4 L489.0,236.4 L489.2,235.4 L489.4,234.4 L489.6,233.5 L489.8,232.5 L490.0,231.5 L490.2,230.5 L490.4,229.5 L490.6,228.6 L490.8,227.6 L491.0,226.6 L491.2,225.7 L491.4,224.7 L491.6,223.7 L491.9,222.7 L492.1,221.8 L492.3,220.8 L492.5,219.8 L492.7,218.9 L493.0,217.9 L493.2,217.0 L493.4,216.0 L493.7,215.0 L493.9,214.1 L494.1,213.1 L494.4,212.2 L494.6,211.2 L494.9,210.3 L495.1,209.3 L495.4,208.4 L495.6,207.4 L495.9,206.5 L496.1,205.6 L496.4,204.6 L496.7,203.7 L496.9,202.7 L497.2,201.8 L500.0,204.1 L500.2,203.2 L500.5,202.2 L500.7,201.2 L501.0,200.3 L501.3,199.3 L501.6,198.4 L501.9,197.4 L502.3,196.4 L502.6,195.5 L503.0,194.5 L503.4,193.6 L503.8,192.7 L504.2,191.7 L504.7,190.8 L505.2,189.9 L505.7,189.1 L506.2,188.2 L506.7,187.3 L507.3,186.5 L507.8,185.7 L508.4,184.9 L509.0,184.1 L509.7,183.4 L510.3,182.7 L511.0,182.0 L511.7,181.3 L512.4,180.7 L513.2,180.1 L514.0,179.6 L514.7,179.0 L515.6,178.5 L516.4,178.1 L517.2,177.7 L518.1,177.3 L519.0,177.0 L520.0,176.7 L520.9,176.4 L521.9,176.3 L522.9,176.1 L523.9,176.0 L525.0,176.0 L526.0,176.0 L527.1,176.0 L528.3,176.1 L529.4,176.3 L529.4,176.3 L533.9,180.9 L550.2,180.9 L554.7,185.3 L569.9,185.3 L574.5,189.7 L585.3,189.7 L589.8,194.1 L599.8,194.1 L603.9,198.3 L611.7,198.3 L615.9,202.5 L622.3,202.5 L625.9,206.6 L632.8,206.6 L637.0,210.7 L642.2,210.7 L646.0,214.7 L651.6,214.7 L654.8,218.7 L659.0,218.7 L662.9,222.6 L667.5,222.6 L671.1,226.4 L674.7,226.4 L678.3,230.2 L681.7,230.2 L685.3,233.9 L688.9,233.9 L692.3,237.6 L695.3,237.6 L699.0,241.2 L701.1,241.2 L704.7,244.8 L707.5,244.8 L711.1,248.3 L713.5,248.3 L717.1,251.8 L719.5,251.8 L723.1,255.3 L725.5,255.3 L728.8,258.7 L731.2,258.7 L734.6,262.0 L736.7,262.0 L740.6,265.4 L742.4,265.4 L746.0,268.6 L748.1,268.6 L751.4,271.9 L753.3,271.9 L756.9,275.1 L758.7,275.1 L762.9,278.3" stroke="#0000ff" stroke-width="2.25"/>
<path d="M80.0,486.4 L143.9,486.4 L146.8,487.3 L162.3,487.3 L164.5,486.8 L165.5,486.8 L166.5,486.8 L167.5,486.8 L168.5,486.7 L169.4,486.7 L170.4,486.7 L171.4,486.7 L172.4,486.7 L173.4,486.7 L174.4,486.7 L175.4,486.6 L176.4,486.6 L177.4,486.6 L178.4,486.6 L179.4,486.6 L180.4,486.6 L181.4,486.6 L182.4,486.6 L183.4,486.5 L184.4,486.5 L185.4,486.5 L186.4,486.5 L187.3,486.5 L188.3,486.5 L189.3,486.5 L190.3,486.5 L191.3,486.5 L192.4,486.5 L193.4,486.4 L194.4,486.4 L195.4,486.4 L196.4,486.4 L197.4,486.4 L198.4,486.4 L199.4,486.4 L200.4,486.4 L201.4,486.4 L202.4,486.3 L203.4,486.3 L204.4,486.3 L205.4,486.3 L206.4,486.3 L207.4,486.3 L208.4,486.3 L209.4,486.3 L210.4,486.2 L211.4,486.2 L212.4,486.2 L213.4,486.2 L214.5,486.2 L215.5,486.2 L216.5,486.1 L217.5,486.1 L218.5,486.1 L219.5,486.1 L220.5,486.1 L221.5,486.0 L222.5,486.0 L223.5,486.0 L224.5,486.0 L225.5,485.9 L226.6,485.9 L227.6,485.9 L228.6,485.9 L229.6,485.8 L230.6,485.8 L231.6,485.8 L232.6,485.7 L233.6,485.7 L234.6,485.7 L235.6,485.6 L236.7,485.6 L237.7,485.6 L238.7,485.5 L239.7,485.5 L240.7,485.5 L241.7,485.4 L242.7,485.4 L243.7,485.3 L244.7,485.3 L245.7,485.2 L246.7,485.2 L247.8,485.1 L248.8,485.1 L249.8,485.0 L250.8,485.0 L251.8,484.9 L252.8,484.9 L253.8,484.8 L254.8,484.8 L255.8,484.7 L256.8,484.7 L257.8,484.6 L258.8,484.5 L259.8,484.5 L260.9,484.4 L261.9,484.3 L262.9,484.3 L263.9,484.2 L264.9,484.1 L265.9,484.0 L266.9,484.0 L267.9,483.9 L268.9,483.8 L269.9,483.7 L270.9,483.6 L271.9,483.5 L272.9,483.5 L273.9,483.4 L274.9,483.3 L275.9,483.2 L276.9,483.1 L277.9,483.0 L278.9,482.9 L279.9,482.8 L280.9,482.7 L281.9,482.6 L282.9,482.5 L283.9,482.4 L284.9,482.3 L285.9,482.1 L286.9,482.0 L287.9,481.9 L288.9,481.8 L289.9,481.7 L290.9,481.5 L291.9,481.4 L292.9,481.3 L293.9,481.2 L294.9,481.0 L295.9,480.9 L296.9,480.7 L297.9,480.6 L298.9,480.5 L299.9,480.3 L300.8,480.2 L301.8,480.0 L302.8,479.9 L303.8,479.7 L304.8,479.6 L305.8,479.4 L306.8,479.2 L307.8,479.1 L308.7,478.9 L309.7,478.7 L310.7,478.5 L311.7,478.4 L312.7,478.2 L313.7,478.0 L314.6,477.8 L315.6,477.6 L316.6,477.4 L317.6,477.2 L318.6,477.0 L319.5,476.8 L320.5,476.6 L321.5,476.4 L322.5,476.2 L323.4,476.0 L324.4,475.8 L325.4,475.6 L326.4,475.4 L327.3,475.1 L328.3,474.9 L329.3,474.7 L330.2,474.5 L331.2,474.2 L332.2,474.0 L333.2,473.7 L334.1,473.5 L335.1,473.2 L336.0,473.0 L337.0,472.7 L338.0,472.5 L338.9,472.2 L339.9,471.9 L340.8,471.7 L341.8,471.4 L342.8,471.1 L343.7,470.8 L344.7,470.6 L345.6,470.3 L346.6,470.0 L347.5,469.7 L348.5,469.4 L349.4,469.1 L350.4,468.8 L351.3,468.5 L352.3,468.2 L353.2,467.9 L354.2,467.5 L355.1,467.2 L356.1,466.9 L357.0,466.6 L357.9,466.2 L358.9,465.9 L359.8,465.5 L360.8,465.2 L361.7,464.8 L362.6,464.5 L363.6,464.1 L364.5,463.8 L365.4,463.4 L366.4,463.0 L367.3,462.7 L368.2,462.3 L369.1,461.9 L370.1,461.5 L371.0,461.1 L371.9,460.7 L372.8,460.3 L373.7,459.9 L374.7,459.5 L375.6,459.1 L376.5,458.7 L377.4,458.3 L378.3,457.9 L379.2,457.4 L380.2,457.0 L381.1,456.6 L382.0,456.1 L382.9,455.7 L383.8,455.3 L384.7,454.8 L385.6,454.4 L386.5,453.9 L387.4,453.5 L388.3,453.0 L389.2,452.5 L390.1,452.1 L391.0,451.6 L391.9,451.1 L392.8,450.7 L393.7,450.2 L394.5,449.7 L395.4,449.2 L396.3,448.7 L397.2,448.2 L398.1,447.7 L399.0,447.2 L399.8,446.8 L400.7,446.3 L401.6,445.8 L402.5,445.2 L403.3,444.7 L404.2,444.2 L405.1,443.7 L406.0,443.2 L406.8,442.7 L407.7,442.2 L408.6,441.6 L409.4,441.1 L410.3,440.6 L411.1,440.1 L412.0,439.5 L412.8,439.0 L413.7,438.5 L414.6,437.9 L415.4,437.4 L416.3,436.9 L417.1,436.3 L417.9,435.8 L418.8,435.2 L419.6,434.7 L420.5,434.2 L421.3,433.6 L422.1,433.1 L423.0,432.5 L423.8,431.9 L424.6,431.4 L425.5,430.8 L426.3,430.3 L427.1,429.7 L428.0,429.1 L428.8,428.6 L429.6,428.0 L430.4,427.4 L431.2,426.9 L432.0,426.3 L432.9,425.7 L433.7,425.1 L434.5,424.5 L435.3,424.0 L436.1,423.4 L436.9,422.8 L437.7,422.2 L438.5,421.6 L439.3,421.0 L440.1,420.4 L440.9,419.8 L441.7,419.2 L442.5,418.6 L443.2,418.0 L444.0,417.3 L444.8,416.7 L445.6,416.1 L449.4,417.8 L450.1,417.1 L450.8,416.3 L451.5,415.5 L452.2,414.8 L452.9,414.0 L453.5,413.2 L454.1,412.5 L454.8,411.7 L455.4,410.9 L456.0,410.1 L456.6,409.3 L457.2,408.5 L457.7,407.7 L458.3,406.8 L458.8,406.0 L459.4,405.2 L459.9,404.4 L460.4,403.5 L460.9,402.7 L461.4,401.8 L461.9,401.0 L462.4,400.1 L462.8,399.2 L463.3,398.4 L463.8,397.5 L464.2,396.6 L464.6,395.7 L465.1,394.9 L465.5,394.0 L465.9,393.1 L466.3,392.2 L466.7,391.3 L467.1,390.4 L467.5,389.5 L467.9,388.6 L468.3,387.7 L468.6,386.7 L469.0,385.8 L469.4,384.9 L469.7,384.0 L470.1,383.0 L470.4,382.1 L470.8,381.2 L471.1,380.2 L471.5,379.3 L471.8,378.3 L472.1,377.4 L472.4,376.5 L472.8,375.5 L473.1,374.6 L473.4,373.6 L473.7,372.6 L474.0,371.7 L474.4,370.7 L474.7,369.8 L475.0,368.8 L475.3,367.8 L475.6,366.9 L475.9,365.9 L476.2,364.9 L476.4,363.9 L476.7,363.0 L477.0,362.0 L477.3,361.0 L477.6,360.0 L477.9,359.1 L478.1,358.1 L478.4,357.1 L478.7,356.1 L478.9,355.2 L479.2,354.2 L479.5,353.2 L479.7,352.2 L480.0,351.2 L480.2,350.3 L480.5,349.3 L480.7,348.3 L481.0,347.3 L481.3,346.3 L481.5,345.3 L481.7,344.4 L482.0,343.4 L482.2,342.4 L482.5,341.4 L482.7,340.4 L483.0,339.5 L483.2,338.5 L483.5,337.5 L483.7,336.5 L484.0,335.6 L484.2,334.6 L484.4,333.6 L484.7,332.7 L484.9,331.7 L485.2,330.7 L485.4,329.7 L485.7,328.8 L486.0,327.8 L486.2,326.9 L486.5,325.9 L486.7,324.9 L487.0,324.0 L487.3,323.0 L487.6,322.1 L487.9,321.1 L488.2,320.2 L488.4,319.3 L488.7,318.3 L489.1,317.4 L489.4,316.4 L489.7,315.5 L490.0,314.6 L490.4,313.7 L490.7,312.7 L491.1,311.8 L491.4,310.9 L491.8,310.0 L492.2,309.1 L492.6,308.2 L492.9,307.3 L493.4,306.4 L493.8,305.5 L494.2,304.6 L494.6,303.7 L495.1,302.8 L495.5,301.9 L496.0,301.1 L496.5,300.2 L499.7,300.8 L500.2,299.9 L500.7,299.0 L501.2,298.1 L501.7,297.2 L502.3,296.3 L502.8,295.5 L503.4,294.7 L504.1,293.9 L504.7,293.1 L505.3,292.4 L506.0,291.6 L506.7,290.9 L507.4,290.2 L508.1,289.6 L508.9,288.9 L509.6,288.3 L510.4,287.7 L511.2,287.2 L512.0,286.7 L512.9,286.2 L513.7,285.7 L514.6,285.3 L515.5,284.9 L516.4,284.5 L517.3,284.2 L518.2,283.9 L519.1,283.7 L520.1,283.5 L521.1,283.3 L522.1,283.2 L523.1,283.1 L524.1,283.0 L525.1,283.0 L526.2,283.0 L527.2,283.1 L528.3,283.2 L529.4,283.4 L529.4,283.4 L533.9,286.7 L550.2,286.7 L554.7,289.9 L569.9,289.9 L574.5,293.1 L585.3,293.1 L589.8,296.2 L599.8,296.2 L603.9,299.2 L611.7,299.2 L615.9,302.3 L622.3,302.3 L625.9,305.2 L632.8,305.2 L637.0,308.2 L642.2,308.2 L646.0,311.1 L651.6,311.1 L654.8,313.9 L659.0,313.9 L662.9,316.7 L667.5,316.7 L671.1,319.5 L674.7,319.5 L678.3,322.2 L681.7,322.2 L685.3,324.9 L688.9,324.9 L692.3,327.5 L695.3,327.5 L699.0,330.2 L701.1,330.2 L704.7,332.7 L707.5,332.7 L711.1,335.3 L713.5,335.3 L717.1,337.8 L719.5,337.8 L723.1,340.3 L725.5,340.3 L728.8,342.7 L731.2,342.7 L734.6,345.2 L736.7,345.2 L740.6,347.6 L742.4,347.6 L746.0,349.9 L748.1,349.9 L751.4,352.3 L753.3,352.3 L756.9,354.6 L758.7,354.6 L762.9,356.9" stroke="#a52a2a" stroke-width="2.25"/>
<path d="M80.0,485.9 L143.9,485.9 L146.8,486.8 L147.8,486.7 L148.8,486.7 L149.8,486.7 L150.8,486.6 L151.8,486.6 L152.8,486.6 L153.7,486.6 L154.7,486.6 L155.7,486.5 L156.7,486.5 L157.7,486.5 L158.7,486.5 L159.7,486.4 L160.7,486.4 L161.7,486.4 L162.7,486.4 L163.7,486.4 L164.7,486.4 L165.7,486.3 L166.7,486.3 L167.7,486.3 L168.7,486.3 L169.7,486.3 L170.7,486.3 L171.7,486.2 L172.7,486.2 L173.7,486.2 L174.7,486.2 L175.7,486.2 L176.7,486.2 L177.7,486.2 L178.7,486.1 L179.7,486.1 L180.7,486.1 L181.7,486.1 L182.7,486.1 L183.7,486.1 L184.7,486.1 L185.7,486.1 L186.7,486.1 L187.7,486.0 L188.7,486.0 L189.7,486.0 L190.7,486.0 L191.7,486.0 L192.7,486.0 L193.7,486.0 L194.7,486.0 L195.7,486.0 L196.7,486.0 L197.7,486.0 L198.7,486.0 L199.7,485.9 L200.7,485.9 L201.7,485.9 L202.7,485.9 L203.8,485.9 L204.8,485.9 L205.8,485.9 L206.8,485.9 L207.8,485.9 L208.8,485.9 L209.8,485.9 L210.8,485.9 L211.8,485.8 L212.8,485.8 L213.8,485.8 L214.8,485.8 L215.8,485.8 L216.8,485.8 L217.8,485.8 L218.9,485.8 L219.9,485.8 L220.9,485.8 L221.9,485.8 L222.9,485.7 L223.9,485.7 L224.9,485.7 L225.9,485.7 L226.9,485.7 L227.9,485.7 L228.9,485.7 L229.9,485.7 L230.9,485.7 L232.0,485.6 L233.0,485.6 L234.0,485.6 L235.0,485.6 L236.0,485.6 L237.0,485.6 L238.0,485.6 L239.0,485.6 L240.0,485.5 L241.0,485.5 L242.0,485.5 L243.0,485.5 L244.1,485.5 L245.1,485.5 L246.1,485.4 L247.1,485.4 L248.1,485.4 L249.1,485.4 L250.1,485.4 L251.1,485.4 L252.1,485.3 L253.1,485.3 L254.1,485.3 L255.2,485.3 L256.2,485.3 L257.2,485.2 L258.2,485.2 L259.2,485.2 L260.2,485.2 L261.2,485.1 L262.2,485.1 L263.2,485.1 L264.2,485.1 L265.2,485.0 L266.2,485.0 L267.3,485.0 L268.3,484.9 L269.3,484.9 L270.3,484.9 L271.3,484.9 L272.3,484.8 L273.3,484.8 L274.3,484.8 L275.3,484.7 L276.3,484.7 L277.3,484.6 L278.3,484.6 L279.3,484.6 L280.3,484.5 L281.4,484.5 L282.4,484.5 L283.4,484.4 L284.4,484.4 L285.4,484.3 L286.4,484.3 L287.4,484.2 L288.4,484.2 L289.4,484.1 L290.4,484.1 L291.4,484.0 L292.4,484.0 L293.4,483.9 L294.4,483.9 L295.4,483.8 L296.4,483.8 L297.4,483.7 L298.4,483.7 L299.4,483.6 L300.4,483.6 L301.5,483.5 L302.5,483.4 L303.5,483.4 L304.5,483.3 L305.5,483.2 L306.5,483.2 L307.5,483.1 L308.5,483.0 L309.5,483.0 L310.5,482.9 L311.5,482.8 L312.5,482.8 L313.5,482.7 L314.5,482.6 L315.5,482.5 L316.5,482.4 L317.5,482.4 L318.5,482.3 L319.5,482.2 L320.5,482.1 L321.5,482.0 L322.5,481.9 L323.5,481.8 L324.5,481.8 L325.5,481.7 L326.5,481.6 L327.5,481.5 L328.4,481.4 L329.4,481.3 L330.4,481.2 L331.4,481.1 L332.4,481.0 L333.4,480.9 L334.4,480.8 L335.4,480.6 L336.4,480.5 L337.4,480.4 L338.4,480.3 L339.4,480.2 L340.4,480.1 L341.4,480.0 L342.4,479.8 L343.4,479.7 L344.3,479.6 L345.3,479.5 L346.3,479.3 L347.3,479.2 L348.3,479.1 L349.3,478.9 L350.3,478.8 L351.3,478.7 L352.3,478.5 L353.3,478.4 L354.2,478.2 L355.2,478.1 L356.2,477.9 L357.2,477.8 L358.2,477.6 L359.2,477.5 L360.2,477.3 L361.1,477.2 L362.1,477.0 L363.1,476.8 L364.1,476.7 L365.1,476.5 L366.1,476.3 L367.0,476.2 L368.0,476.0 L369.0,475.8 L370.0,475.6 L371.0,475.4 L371.9,475.3 L372.9,475.1 L373.9,474.9 L374.9,474.7 L375.9,474.5 L376.8,474.3 L377.8,474.1 L378.8,473.9 L379.8,473.7 L380.7,473.5 L381.7,473.3 L382.7,473.1 L383.7,472.9 L384.6,472.7 L385.6,472.5 L386.6,472.2 L387.5,472.0 L388.5,471.8 L389.5,471.6 L390.5,471.3 L391.4,471.1 L392.4,470.9 L393.4,470.6 L394.3,470.4 L395.3,470.1 L396.3,469.9 L397.2,469.7 L398.2,469.4 L399.2,469.2 L400.1,468.9 L401.1,468.6 L402.1,468.4 L403.0,468.1 L404.0,467.8 L404.9,467.6 L405.9,467.3 L406.9,467.0 L407.8,466.8 L408.8,466.5 L409.7,466.2 L410.7,465.9 L411.7,465.6 L412.6,465.3 L413.6,465.0 L414.5,464.7 L415.5,464.4 L416.4,464.1 L417.4,463.8 L418.4,463.5 L419.3,463.2 L420.3,462.9 L421.2,462.5 L422.2,462.2 L423.1,461.9 L424.1,461.6 L425.0,461.2 L426.0,460.9 L426.9,460.6 L427.8,460.2 L428.8,459.9 L429.7,459.5 L430.7,459.2 L431.6,458.8 L432.6,458.5 L433.5,458.1 L434.5,457.7 L435.4,457.4 L436.3,457.0 L437.3,456.6 L438.2,456.2 L439.2,455.9 L440.1,455.5 L441.0,455.1 L442.0,454.7 L442.9,454.3 L443.8,453.9 L444.8,453.5 L445.7,453.1 L449.4,454.4 L450.2,453.8 L451.1,453.1 L451.9,452.4 L452.6,451.8 L453.4,451.1 L454.2,450.4 L454.9,449.7 L455.7,449.0 L456.4,448.3 L457.1,447.6 L457.8,446.8 L458.4,446.1 L459.1,445.3 L459.8,444.6 L460.4,443.8 L461.0,443.0 L461.6,442.3 L462.3,441.5 L462.8,440.7 L463.4,439.9 L464.0,439.1 L464.6,438.3 L465.1,437.4 L465.6,436.6 L466.2,435.8 L466.7,434.9 L467.2,434.1 L467.7,433.2 L468.2,432.4 L468.7,431.5 L469.1,430.7 L469.6,429.8 L470.0,428.9 L470.5,428.0 L470.9,427.1 L471.3,426.2 L471.8,425.3 L472.2,424.4 L472.6,423.5 L473.0,422.6 L473.4,421.7 L473.7,420.8 L474.1,419.8 L474.5,418.9 L474.8,418.0 L475.2,417.0 L475.5,416.1 L475.9,415.2 L476.2,414.2 L476.6,413.3 L476.9,412.3 L477.2,411.4 L477.5,410.4 L477.8,409.4 L478.1,408.5 L478.4,407.5 L478.7,406.5 L479.0,405.6 L479.3,404.6 L479.6,403.6 L479.9,402.6 L480.2,401.7 L480.5,400.7 L480.8,399.7 L481.0,398.7 L481.3,397.7 L481.6,396.8 L481.8,395.8 L482.1,394.8 L482.4,393.8 L482.6,392.8 L482.9,391.8 L483.2,390.9 L483.4,389.9 L483.7,388.9 L484.0,387.9 L484.2,386.9 L484.5,385.9 L484.8,384.9 L485.0,384.0 L485.3,383.0 L485.6,382.0 L485.8,381.0 L486.1,380.0 L486.4,379.1 L486.6,378.1 L486.9,377.1 L487.2,376.1 L487.5,375.2 L487.8,374.2 L488.0,373.2 L488.3,372.3 L488.6,371.3 L488.9,370.4 L489.2,369.4 L489.5,368.4 L489.8,367.5 L490.1,366.6 L490.4,365.6 L490.8,364.7 L491.1,363.7 L491.4,362.8 L491.8,361.9 L492.1,360.9 L492.4,360.0 L492.8,359.1 L493.2,358.2 L493.5,357.3 L493.9,356.4 L494.3,355.5 L494.7,354.6 L495.1,353.7 L495.5,352.8 L495.9,351.9 L496.3,351.1 L496.7,350.2 L499.7,351.2 L500.1,350.3 L500.6,349.3 L501.0,348.4 L501.5,347.5 L502.0,346.6 L502.5,345.7 L503.0,344.8 L503.6,343.9 L504.2,343.1 L504.8,342.3 L505.4,341.4 L506.0,340.7 L506.7,339.9 L507.4,339.1 L508.1,338.4 L508.8,337.7 L509.5,337.1 L510.3,336.4 L511.1,335.8 L511.9,335.2 L512.7,334.7 L513.5,334.2 L514.4,333.7 L515.2,333.3 L516.1,332.9 L517.0,332.5 L518.0,332.2 L518.9,331.9 L519.9,331.6 L520.9,331.5 L521.9,331.3 L522.9,331.2 L523.9,331.2 L525.0,331.1 L526.1,331.2 L527.2,331.3 L528.3,331.4 L529.4,331.7 L529.4,331.7 L533.9,335.2 L550.2,335.2 L554.7,338.7 L569.9,338.7 L574.5,342.2 L585.3,342.2 L589.8,345.6 L599.8,345.6 L603.9,348.9 L611.7,348.9 L615.9,352.2 L622.3,352.2 L625.9,355.4 L632.8,355.4 L637.0,358.5 L642.2,358.5 L646.0,361.7 L651.6,361.7 L654.8,364.7 L659.0,364.7 L662.9,367.7 L667.5,367.7 L671.1,370.7 L674.7,370.7 L678.3,373.6 L681.7,373.6 L685.3,376.5 L688.9,376.5 L692.3,379.3 L695.3,379.3 L699.0,382.1 L701.1,382.1 L704.7,384.8 L707.5,384.8 L711.1,387.5 L713.5,387.5 L717.1,390.2 L719.5,390.2 L723.1,392.8 L725.5,392.8 L728.8,395.4 L731.2,395.4 L734.6,398.0 L736.7,398.0 L740.6,400.5 L742.4,400.5 L746.0,402.9 L748.1,402.9 L751.4,405.4 L753.3,405.4 L756.9,407.8 L758.7,407.8 L762.9,410.2" stroke="#ffc020" stroke-width="2.25"/>
<path d="M80.0,483.4 L143.9,483.4 L146.8,484.6 L147.8,484.6 L148.8,484.6 L149.7,484.6 L150.7,484.6 L151.7,484.6 L152.7,484.5 L153.7,484.5 L154.7,484.5 L155.7,484.5 L156.7,484.5 L157.6,484.5 L158.6,484.5 L159.6,484.5 L160.6,484.5 L161.6,484.5 L162.6,484.5 L163.6,484.4 L164.6,484.4 L165.6,484.4 L166.6,484.4 L167.5,484.4 L168.5,484.4 L169.5,484.4 L170.5,484.4 L171.5,484.4 L172.5,484.4 L173.5,484.3 L174.5,484.3 L175.5,484.3 L176.5,484.3 L177.5,484.3 L178.5,484.3 L179.5,484.3 L180.5,484.3 L181.5,484.2 L182.5,484.2 L183.5,484.2 L184.5,484.2 L185.5,484.2 L186.5,484.2 L187.5,484.2 L188.5,484.2 L189.5,484.1 L190.5,484.1 L191.5,484.1 L192.5,484.1 L193.5,484.1 L194.5,484.1 L195.5,484.1 L196.5,484.0 L197.5,484.0 L198.5,484.0 L199.5,484.0 L200.5,484.0 L201.5,484.0 L202.5,483.9 L203.5,483.9 L204.5,483.9 L205.5,483.9 L206.5,483.9 L207.6,483.9 L208.6,483.8 L209.6,483.8 L210.6,483.8 L211.6,483.8 L212.6,483.8 L213.6,483.7 L214.6,483.7 L215.6,483.7 L216.6,483.7 L217.6,483.7 L218.6,483.6 L219.6,483.6 L220.7,483.6 L221.7,483.6 L222.7,483.5 L223.7,483.5 L224.7,483.5 L225.7,483.5 L226.7,483.5 L227.7,483.4 L228.7,483.4 L229.7,483.4 L230.7,483.4 L231.8,483.3 L232.8,483.3 L233.8,483.3 L234.8,483.2 L235.8,483.2 L236.8,483.2 L237.8,483.2 L238.8,483.1 L239.8,483.1 L240.8,483.1 L241.9,483.0 L242.9,483.0 L243.9,483.0 L244.9,483.0 L245.9,482.9 L246.9,482.9 L247.9,482.9 L248.9,482.8 L249.9,482.8 L250.9,482.8 L252.0,482.7 L253.0,482.7 L254.0,482.7 L255.0,482.6 L256.0,482.6 L257.0,482.5 L258.0,482.5 L259.0,482.5 L260.0,482.4 L261.1,482.4 L262.1,482.4 L263.1,482.3 L264.1,482.3 L265.1,482.2 L266.1,482.2 L267.1,482.2 L268.1,482.1 L269.1,482.1 L270.1,482.0 L271.1,482.0 L272.2,481.9 L273.2,481.9 L274.2,481.8 L275.2,481.8 L276.2,481.8 L277.2,481.7 L278.2,481.7 L279.2,481.6 L280.2,481.6 L281.2,481.5 L282.2,481.5 L283.2,481.4 L284.2,481.4 L285.3,481.3 L286.3,481.2 L287.3,481.2 L288.3,481.1 L289.3,481.1 L290.3,481.0 L291.3,481.0 L292.3,480.9 L293.3,480.8 L294.3,480.8 L295.3,480.7 L296.3,480.6 L297.3,480.6 L298.3,480.5 L299.3,480.4 L300.3,480.4 L301.3,480.3 L302.3,480.2 L303.3,480.2 L304.3,480.1 L305.3,480.0 L306.3,479.9 L307.3,479.8 L308.3,479.8 L309.3,479.7 L310.3,479.6 L311.3,479.5 L312.3,479.4 L313.3,479.3 L314.3,479.2 L315.3,479.1 L316.3,479.0 L317.3,479.0 L318.3,478.9 L319.3,478.8 L320.3,478.7 L321.3,478.5 L322.3,478.4 L323.3,478.3 L324.3,478.2 L325.3,478.1 L326.3,478.0 L327.3,477.9 L328.3,477.8 L329.3,477.6 L330.3,477.5 L331.2,477.4 L332.2,477.3 L333.2,477.2 L334.2,477.0 L335.2,476.9 L336.2,476.8 L337.2,476.6 L338.2,476.5 L339.2,476.3 L340.1,476.2 L341.1,476.1 L342.1,475.9 L343.1,475.8 L344.1,475.6 L345.1,475.4 L346.1,475.3 L347.0,475.1 L348.0,475.0 L349.0,474.8 L350.0,474.6 L351.0,474.5 L351.9,474.3 L352.9,474.1 L353.9,473.9 L354.9,473.7 L355.9,473.6 L356.8,473.4 L357.8,473.2 L358.8,473.0 L359.8,472.8 L360.7,472.6 L361.7,472.4 L362.7,472.2 L363.7,472.0 L364.6,471.8 L365.6,471.6 L366.6,471.3 L367.5,471.1 L368.5,470.9 L369.5,470.7 L370.4,470.5 L371.4,470.2 L372.4,470.0 L373.3,469.7 L374.3,469.5 L375.3,469.3 L376.2,469.0 L377.2,468.8 L378.2,468.5 L379.1,468.2 L380.1,468.0 L381.0,467.7 L382.0,467.4 L383.0,467.2 L383.9,466.9 L384.9,466.6 L385.8,466.3 L386.8,466.0 L387.7,465.7 L388.7,465.4 L389.6,465.1 L390.6,464.8 L391.5,464.5 L392.4,464.2 L393.4,463.9 L394.3,463.5 L395.2,463.2 L396.2,462.9 L397.1,462.5 L398.0,462.2 L399.0,461.9 L399.9,461.5 L400.8,461.1 L401.7,460.8 L402.7,460.4 L403.6,460.0 L404.5,459.7 L405.4,459.3 L406.3,458.9 L407.2,458.5 L408.1,458.1 L409.0,457.7 L409.9,457.3 L410.8,456.9 L411.7,456.4 L412.6,456.0 L413.5,455.6 L414.4,455.1 L415.3,454.7 L416.2,454.2 L417.0,453.8 L417.9,453.3 L418.8,452.8 L419.7,452.4 L420.5,451.9 L421.4,451.4 L422.3,450.9 L423.1,450.4 L424.0,449.9 L424.8,449.4 L425.7,448.9 L426.5,448.3 L427.4,447.8 L428.2,447.3 L429.0,446.7 L429.9,446.2 L430.7,445.6 L431.5,445.0 L432.3,444.5 L433.2,443.9 L434.0,443.3 L434.8,442.7 L435.6,442.1 L436.4,441.5 L437.2,440.8 L438.0,440.2 L438.8,439.6 L439.6,438.9 L440.3,438.3 L441.1,437.6 L441.9,437.0 L442.7,436.3 L443.4,435.6 L444.2,434.9 L444.9,434.2 L445.7,433.5 L449.5,435.9 L450.1,435.1 L450.7,434.2 L451.3,433.3 L451.9,432.5 L452.5,431.6 L453.1,430.8 L453.7,429.9 L454.2,429.0 L454.7,428.2 L455.3,427.3 L455.8,426.4 L456.3,425.5 L456.8,424.7 L457.3,423.8 L457.8,422.9 L458.3,422.0 L458.7,421.1 L459.2,420.2 L459.6,419.3 L460.1,418.4 L460.5,417.5 L460.9,416.6 L461.4,415.7 L461.8,414.8 L462.2,413.9 L462.6,413.0 L462.9,412.1 L463.3,411.2 L463.7,410.2 L464.0,409.3 L464.4,408.4 L464.7,407.5 L465.1,406.6 L465.4,405.6 L465.7,404.7 L466.1,403.8 L466.4,402.8 L466.7,401.9 L467.0,401.0 L467.3,400.0 L467.6,399.1 L467.8,398.2 L468.1,397.2 L468.4,396.3 L468.6,395.3 L468.9,394.4 L469.2,393.4 L469.4,392.5 L469.6,391.5 L469.9,390.6 L470.1,389.6 L470.3,388.6 L470.6,387.7 L470.8,386.7 L471.0,385.8 L471.2,384.8 L471.4,383.8 L471.6,382.9 L471.8,381.9 L472.0,380.9 L472.2,380.0 L472.4,379.0 L472.5,378.0 L472.7,377.0 L472.9,376.1 L473.1,375.1 L473.2,374.1 L473.4,373.1 L473.5,372.1 L473.7,371.2 L473.9,370.2 L474.0,369.2 L474.2,368.2 L474.3,367.2 L474.4,366.2 L474.6,365.3 L474.7,364.3 L474.9,363.3 L475.0,362.3 L475.1,361.3 L475.3,360.3 L475.4,359.3 L475.5,358.3 L475.7,357.3 L475.8,356.3 L475.9,355.3 L476.1,354.3 L476.2,353.3 L476.3,352.3 L476.4,351.3 L476.6,350.3 L476.7,349.3 L476.8,348.3 L476.9,347.3 L477.1,346.3 L477.2,345.3 L477.3,344.3 L477.4,343.3 L477.6,342.3 L477.7,341.3 L477.8,340.3 L478.0,339.3 L478.1,338.3 L478.2,337.3 L478.3,336.3 L478.5,335.3 L478.6,334.3 L478.7,333.2 L478.9,332.2 L479.0,331.2 L479.1,330.2 L479.3,329.2 L479.4,328.2 L479.6,327.2 L479.7,326.2 L479.8,325.2 L480.0,324.2 L480.1,323.2 L480.2,322.1 L480.4,321.1 L480.5,320.1 L480.7,319.1 L480.8,318.1 L481.0,317.1 L481.1,316.1 L481.2,315.1 L481.4,314.1 L481.5,313.1 L481.7,312.0 L481.8,311.0 L481.9,310.0 L482.1,309.0 L482.2,308.0 L482.4,307.0 L482.5,306.0 L482.7,305.0 L482.8,304.0 L482.9,303.0 L483.1,302.0 L483.2,301.0 L483.4,299.9 L483.5,298.9 L483.6,297.9 L483.8,296.9 L483.9,295.9 L484.1,294.9 L484.2,293.9 L484.3,292.9 L484.5,291.9 L484.6,290.9 L484.8,289.9 L484.9,288.9 L485.0,287.9 L485.2,286.9 L485.3,285.9 L485.4,284.9 L485.6,283.9 L485.7,282.9 L485.9,281.9 L486.0,280.9 L486.1,279.9 L486.2,278.9 L486.4,277.9 L486.5,276.9 L486.6,275.9 L486.8,275.0 L486.9,274.0 L487.0,273.0 L487.1,272.0 L487.3,271.0 L487.4,270.0 L487.5,269.0 L487.6,268.0 L487.8,267.1 L487.9,266.1 L488.0,265.1 L488.1,264.1 L488.2,263.1 L488.4,262.2 L488.5,261.2 L488.6,260.2 L488.8,259.2 L488.9,258.3 L489.0,257.3 L489.2,256.3 L489.3,255.3 L489.5,254.4 L489.6,253.4 L489.8,252.4 L490.0,251.5 L490.2,250.5 L490.3,249.6 L490.5,248.6 L490.7,247.6 L490.9,246.7 L491.2,245.7 L491.4,244.8 L491.6,243.8 L491.9,242.9 L492.1,241.9 L492.4,241.0 L492.7,240.0 L493.0,239.1 L493.3,238.1 L493.6,237.2 L493.9,236.2 L494.3,235.3 L494.6,234.4 L495.0,233.4 L495.4,232.5 L495.8,231.6 L496.2,230.6 L496.6,229.7 L500.3,234.6 L500.7,233.6 L501.1,232.7 L501.6,231.7 L502.0,230.8 L502.6,229.9 L503.1,229.0 L503.7,228.2 L504.3,227.4 L504.9,226.5 L505.6,225.8 L506.2,225.0 L506.9,224.3 L507.7,223.6 L508.4,222.9 L509.2,222.3 L510.0,221.6 L510.8,221.1 L511.6,220.5 L512.4,220.0 L513.3,219.5 L514.2,219.0 L515.1,218.6 L516.0,218.3 L517.0,217.9 L517.9,217.6 L518.9,217.3 L519.9,217.1 L520.9,216.9 L521.9,216.8 L523.0,216.7 L524.0,216.6 L525.1,216.6 L526.1,216.6 L527.2,216.7 L528.3,216.8 L529.4,217.0 L529.4,217.0 L533.9,221.4 L550.2,221.4 L554.7,225.8 L569.9,225.8 L574.5,230.2 L585.3,230.2 L589.8,234.4 L599.8,234.4 L603.9,238.6 L611.7,238.6 L615.9,242.8 L622.3,242.8 L625.9,246.9 L632.8,246.9 L637.0,250.9 L642.2,250.9 L646.0,254.9 L651.6,254.9 L654.8,258.8 L659.0,258.8 L662.9,262.7 L667.5,262.7 L671.1,266.5 L674.7,266.5 L678.3,270.3 L681.7,270.3 L685.3,274.0 L688.9,274.0 L692.3,277.7 L695.3,277.7 L699.0,281.4 L701.1,281.4 L704.7,285.0 L707.5,285.0 L711.1,288.5 L713.5,288.5 L717.1,292.0 L719.5,292.0 L723.1,295.5 L725.5,295.5 L728.8,298.9 L731.2,298.9 L734.6,302.3 L736.7,302.3 L740.6,305.7 L742.4,305.7 L746.0,309.0 L748.1,309.0 L751.4,312.3 L753.3,312.3 L756.9,315.6 L758.7,315.6 L762.9,318.8" stroke="#00ffff" stroke-width="4.6"/>
<path d="M478.4,25.7V511.7" stroke="#00ff00" stroke-width="2.25"/>
<path d="M495.9,25.7V511.7" stroke="#c04000" stroke-width="2.25"/>
<path d="M511.8,25.7V511.7" stroke="#ff00ff" stroke-width="2.25"/>
</g>
<g font-family="'Liberation Serif', serif" font-size="25.6" fill="#000" xml:space="preserve">
<text x="131.50 144.19 157.05 163.46 177.24 184.50 193.93 200.78 213.67 226.03 239.33 253.19" y="50.30">49.3 - 106nm</text>
<path d="M286.2,43.8H345.0" stroke="#bebebe" stroke-width="2.25" fill="none"/>
<text x="138.18 150.76 162.72 176.92 184.21 193.68 200.87 213.50 225.92 239.27 253.19" y="71.86">227 - 486nm</text>
<path d="M286.2,65.4H345.0" stroke="#9400d3" stroke-width="2.25" fill="none"/>
<text x="123.15 136.53 143.08 155.60 169.36 176.65 186.12 193.50 206.38 213.07 225.45 238.10 253.19" y="93.42">1.04 - 2.24µm</text>
<path d="M286.2,86.9H345.0" stroke="#0000ff" stroke-width="2.25" fill="none"/>
<text x="123.10 136.21 142.77 155.38 169.13 176.44 185.93 192.83 205.80 218.86 225.31 238.06 253.19" y="114.98">4.80 - 10.3µm</text>
<path d="M286.2,108.5H345.0" stroke="#a52a2a" stroke-width="2.25" fill="none"/>
<text x="122.47 135.17 148.16 154.40 168.60 175.96 185.50 192.76 205.02 218.64 225.13 237.97 253.19" y="136.54">22.1 - 47.3µm</text>
<path d="M286.2,130.0H345.0" stroke="#ffc020" stroke-width="2.25" fill="none"/>
<text x="116.46 134.32 144.74 153.00 164.75 173.83 185.52 198.71 209.81 222.03 229.59 243.11 250.02 259.90" y="158.10">Reference disk</text>
<path d="M286.2,151.6H345.0" stroke="#00ffff" stroke-width="4.6" fill="none"/>
<path d="M201.90,172.26q0.9,-2.4 3.3,-2.6l8.9,-0.5" stroke="#000" stroke-width="1.5" fill="none" stroke-linecap="round"/>
<path d="M208.20,169.76q-1.5,5.2 -2.3,9.0" stroke="#000" stroke-width="1.9" fill="none" stroke-linecap="round"/>
<path d="M223.3,170.76h16.8M223.3,175.46h16.8" stroke="#000" stroke-width="1.2" fill="none"/>
<text x="247.55 261.07" y="179.66">10</text>
<path d="M286.2,173.2H345.0" stroke="#00ff00" stroke-width="2.25" fill="none"/>
<path d="M214.20,193.82q0.9,-2.4 3.3,-2.6l8.9,-0.5" stroke="#000" stroke-width="1.5" fill="none" stroke-linecap="round"/>
<path d="M220.50,191.32q-1.5,5.2 -2.3,9.0" stroke="#000" stroke-width="1.9" fill="none" stroke-linecap="round"/>
<path d="M235.6,192.32h16.8M235.6,197.02h16.8" stroke="#000" stroke-width="1.2" fill="none"/>
<text x="259.09" y="201.22">1</text>
<path d="M286.2,194.7H345.0" stroke="#c04000" stroke-width="2.25" fill="none"/>
<path d="M194.50,215.38q0.9,-2.4 3.3,-2.6l8.9,-0.5" stroke="#000" stroke-width="1.5" fill="none" stroke-linecap="round"/>
<path d="M200.80,212.88q-1.5,5.2 -2.3,9.0" stroke="#000" stroke-width="1.9" fill="none" stroke-linecap="round"/>
<path d="M215.9,213.88h16.8M215.9,218.58h16.8" stroke="#000" stroke-width="1.2" fill="none"/>
<text x="240.72 252.93 258.74" y="222.78">0.1</text>
<path d="M286.2,216.3H345.0" stroke="#ff00ff" stroke-width="2.25" fill="none"/>
<text x="40.05 54.27" y="518.70">10</text>
<text x="41.17 54.27" y="457.95">20</text>
<text x="41.07 54.27" y="397.20">30</text>
<text x="41.80 54.27" y="336.45">40</text>
<text x="40.81 54.27" y="275.70">50</text>
<text x="41.20 54.27" y="214.95">60</text>
<text x="40.61 54.27" y="154.20">70</text>
<text x="41.32 54.27" y="93.45">80</text>
<text x="41.47 54.27" y="32.70">90</text>
<text x="72.99" y="540.10">1</text>
<text x="403.25 416.48" y="540.10">10</text>
<text x="733.35 746.55 759.38" y="540.10">100</text>
<text x="280.06 298.35 309.45 315.98 329.42 343.87 353.22 360.80 373.94 386.54 399.28 411.99 424.15 431.80 452.00 459.22 473.60 486.48 493.73 506.28 519.44 531.60 537.63 545.86 564.48 582.67" y="571.80">Height above midplane [AU]</text>
<g transform="translate(23.2,0) rotate(-90)">
<text x="-359.26 -342.84 -331.36 -310.39 -297.72 -286.12 -276.68 -263.41 -254.50 -240.91 -231.94 -219.86 -213.88 -205.56 -186.93" y="0.00">Temperature [K]</text>
</g>
</g>
<g stroke="#000" fill="none" stroke-width="1.25">
<path d="M80.0,511.70h7.2M790.7,511.70h-7.2M80.0,505.62h3.4M790.7,505.62h-3.4M80.0,499.55h3.4M790.7,499.55h-3.4M80.0,493.47h3.4M790.7,493.47h-3.4M80.0,487.40h3.4M790.7,487.40h-3.4M80.0,481.32h3.4M790.7,481.32h-3.4M80.0,475.25h3.4M790.7,475.25h-3.4M80.0,469.18h3.4M790.7,469.18h-3.4M80.0,463.10h3.4M790.7,463.10h-3.4M80.0,457.02h3.4M790.7,457.02h-3.4M80.0,450.95h7.2M790.7,450.95h-7.2M80.0,444.88h3.4M790.7,444.88h-3.4M80.0,438.80h3.4M790.7,438.80h-3.4M80.0,432.72h3.4M790.7,432.72h-3.4M80.0,426.65h3.4M790.7,426.65h-3.4M80.0,420.57h3.4M790.7,420.57h-3.4M80.0,414.50h3.4M790.7,414.50h-3.4M80.0,408.42h3.4M790.7,408.42h-3.4M80.0,402.35h3.4M790.7,402.35h-3.4M80.0,396.27h3.4M790.7,396.27h-3.4M80.0,390.20h7.2M790.7,390.20h-7.2M80.0,384.12h3.4M790.7,384.12h-3.4M80.0,378.05h3.4M790.7,378.05h-3.4M80.0,371.98h3.4M790.7,371.98h-3.4M80.0,365.90h3.4M790.7,365.90h-3.4M80.0,359.82h3.4M790.7,359.82h-3.4M80.0,353.75h3.4M790.7,353.75h-3.4M80.0,347.67h3.4M790.7,347.67h-3.4M80.0,341.60h3.4M790.7,341.60h-3.4M80.0,335.52h3.4M790.7,335.52h-3.4M80.0,329.45h7.2M790.7,329.45h-7.2M80.0,323.38h3.4M790.7,323.38h-3.4M80.0,317.30h3.4M790.7,317.30h-3.4M80.0,311.23h3.4M790.7,311.23h-3.4M80.0,305.15h3.4M790.7,305.15h-3.4M80.0,299.07h3.4M790.7,299.07h-3.4M80.0,293.00h3.4M790.7,293.00h-3.4M80.0,286.92h3.4M790.7,286.92h-3.4M80.0,280.85h3.4M790.7,280.85h-3.4M80.0,274.77h3.4M790.7,274.77h-3.4M80.0,268.70h7.2M790.7,268.70h-7.2M80.0,262.62h3.4M790.7,262.62h-3.4M80.0,256.55h3.4M790.7,256.55h-3.4M80.0,250.47h3.4M790.7,250.47h-3.4M80.0,244.40h3.4M790.7,244.40h-3.4M80.0,238.32h3.4M790.7,238.32h-3.4M80.0,232.25h3.4M790.7,232.25h-3.4M80.0,226.17h3.4M790.7,226.17h-3.4M80.0,220.10h3.4M790.7,220.10h-3.4M80.0,214.02h3.4M790.7,214.02h-3.4M80.0,207.95h7.2M790.7,207.95h-7.2M80.0,201.88h3.4M790.7,201.88h-3.4M80.0,195.80h3.4M790.7,195.80h-3.4M80.0,189.72h3.4M790.7,189.72h-3.4M80.0,183.65h3.4M790.7,183.65h-3.4M80.0,177.57h3.4M790.7,177.57h-3.4M80.0,171.50h3.4M790.7,171.50h-3.4M80.0,165.42h3.4M790.7,165.42h-3.4M80.0,159.35h3.4M790.7,159.35h-3.4M80.0,153.27h3.4M790.7,153.27h-3.4M80.0,147.20h7.2M790.7,147.20h-7.2M80.0,141.12h3.4M790.7,141.12h-3.4M80.0,135.05h3.4M790.7,135.05h-3.4M80.0,128.97h3.4M790.7,128.97h-3.4M80.0,122.90h3.4M790.7,122.90h-3.4M80.0,116.82h3.4M790.7,116.82h-3.4M80.0,110.75h3.4M790.7,110.75h-3.4M80.0,104.67h3.4M790.7,104.67h-3.4M80.0,98.60h3.4M790.7,98.60h-3.4M80.0,92.52h3.4M790.7,92.52h-3.4M80.0,86.45h7.2M790.7,86.45h-7.2M80.0,80.38h3.4M790.7,80.38h-3.4M80.0,74.30h3.4M790.7,74.30h-3.4M80.0,68.22h3.4M790.7,68.22h-3.4M80.0,62.15h3.4M790.7,62.15h-3.4M80.0,56.07h3.4M790.7,56.07h-3.4M80.0,50.00h3.4M790.7,50.00h-3.4M80.0,43.92h3.4M790.7,43.92h-3.4M80.0,37.85h3.4M790.7,37.85h-3.4M80.0,31.77h3.4M790.7,31.77h-3.4M80.0,25.70h7.2M790.7,25.70h-7.2M80.00,511.7v-7.2M80.00,25.7v7.2M181.28,511.7v-3.5M181.28,25.7v3.5M240.53,511.7v-3.5M240.53,25.7v3.5M282.56,511.7v-3.5M282.56,25.7v3.5M315.17,511.7v-3.5M315.17,25.7v3.5M341.81,511.7v-3.5M341.81,25.7v3.5M364.33,511.7v-3.5M364.33,25.7v3.5M383.84,511.7v-3.5M383.84,25.7v3.5M401.05,511.7v-3.5M401.05,25.7v3.5M416.45,511.7v-7.2M416.45,25.7v7.2M517.73,511.7v-3.5M517.73,25.7v3.5M576.98,511.7v-3.5M576.98,25.7v3.5M619.01,511.7v-3.5M619.01,25.7v3.5M651.62,511.7v-3.5M651.62,25.7v3.5M678.26,511.7v-3.5M678.26,25.7v3.5M700.78,511.7v-3.5M700.78,25.7v3.5M720.29,511.7v-3.5M720.29,25.7v3.5M737.50,511.7v-3.5M737.50,25.7v3.5M752.90,511.7v-7.2M752.90,25.7v7.2"/>
</g>
<rect x="80.0" y="25.7" width="710.7" height="486.0" fill="none" stroke="#000" stroke-width="1.65"/>
</svg>
</body></html>
